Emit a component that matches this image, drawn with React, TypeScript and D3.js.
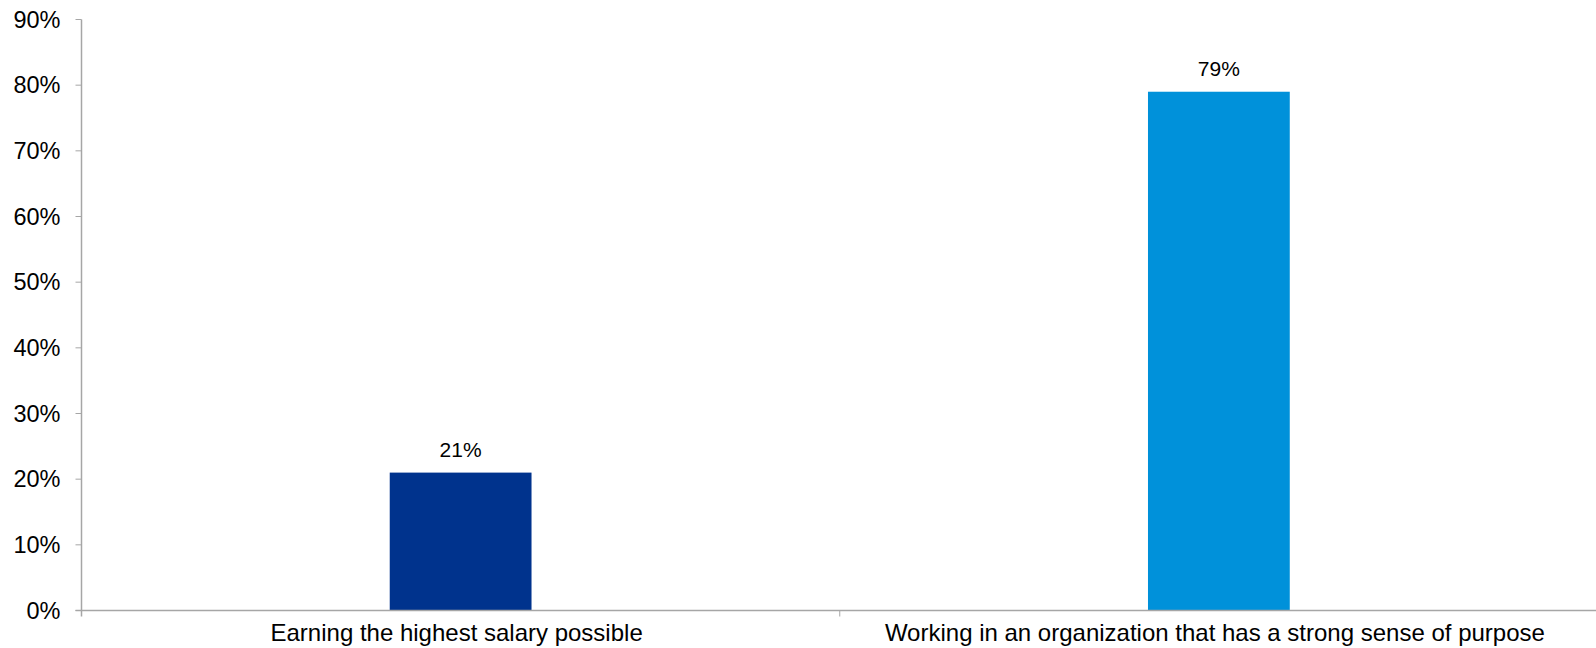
import React from "react";
import * as d3 from "d3";

const categories = [
  "Earning the highest salary possible",
  "Working in an organization that has a strong sense of purpose",
];
const values = [0.21, 0.79];
const barColors = ["#00338D", "#0091DA"];
const yTicks = [0, 0.1, 0.2, 0.3, 0.4, 0.5, 0.6, 0.7, 0.8, 0.9];

const W = 1596;
const H = 648;
const left = 81.5;
const right = 1598;
const top = 19.5;
const bottom = 610.5;
const font = "Liberation Sans, Arial, sans-serif";
const axisColor = "#A6A6A6";

export default function App() {
  const x = d3.scaleBand<string>().domain(categories).range([left, right]).paddingInner(0).paddingOuter(0);
  const y = d3.scaleLinear().domain([0, 0.9]).range([bottom, top]);
  const barW = x.bandwidth() * 0.187;
  const fmt = d3.format(".0%");
  return (
    <svg width={W} height={H} style={{ position: "absolute", left: 0, top: 0 }}>
      {categories.map((c, i) => {
        const cx = (x(c) as number) + x.bandwidth() / 2;
        return (
          <g key={c}>
            <rect x={cx - barW / 2} y={y(values[i])} width={barW} height={y(0) - y(values[i])} fill={barColors[i]} />
            <text x={cx} y={y(values[i]) - 15.4} textAnchor="middle" fontFamily={font} fontSize={21} fill="#000">
              {fmt(values[i])}
            </text>
            <text x={cx - 4} y={640.5} textAnchor="middle" fontFamily={font} fontSize={24} fill="#000">
              {c}
            </text>
          </g>
        );
      })}
      <line x1={left} x2={left} y1={top} y2={bottom + 6} stroke={axisColor} strokeWidth={1.5} />
      <line x1={left - 6} x2={W} y1={bottom} y2={bottom} stroke={axisColor} strokeWidth={1.5} />
      {categories.slice(1).map((c) => (
        <line key={c} x1={x(c) as number} x2={x(c) as number} y1={bottom} y2={bottom + 6} stroke={axisColor} strokeWidth={1} />
      ))}
      {yTicks.map((t) => (
        <g key={t}>
          <line x1={left - 6} x2={left} y1={y(t)} y2={y(t)} stroke={axisColor} strokeWidth={1} />
          <text x={60.5} y={y(t)} dy="0.35em" textAnchor="end" fontFamily={font} fontSize={23.5} fill="#000">
            {fmt(t)}
          </text>
        </g>
      ))}
    </svg>
  );
}
